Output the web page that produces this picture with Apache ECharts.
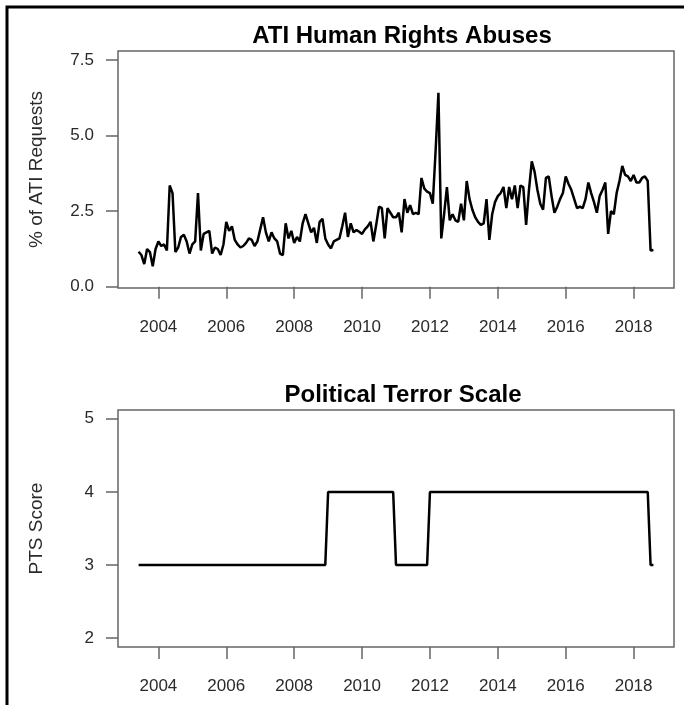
<!DOCTYPE html>
<html>
<head>
<meta charset="utf-8">
<script src="https://cdn.jsdelivr.net/npm/echarts@6/dist/echarts.min.js"></script>
<style>
html,body{margin:0;padding:0;background:#fff;}
#chart{width:684px;height:705px;}
</style>
</head>
<body>
<div id="chart"></div>
<script>
// Monthly series starting June 2003 (183 months, to Aug 2018)
const startYear = 2003;
const startMonth = 6;

const atiValues = [
  1.16,1.05,0.75,1.25,1.15,0.68,1.25,1.50,1.35,1.40,
  1.20,3.35,3.10,1.15,1.30,1.65,1.72,1.50,1.10,1.40,
  1.50,3.10,1.20,1.75,1.80,1.85,1.10,1.30,1.25,1.05,
  1.40,2.15,1.85,2.00,1.55,1.40,1.30,1.35,1.45,1.60,
  1.55,1.35,1.50,1.90,2.30,1.80,1.50,1.80,1.60,1.50,
  1.10,1.05,2.10,1.60,1.85,1.45,1.65,1.50,2.10,2.40,
  2.10,1.80,1.95,1.45,2.15,2.25,1.60,1.40,1.27,1.50,
  1.55,1.60,2.00,2.45,1.65,2.10,1.80,1.88,1.82,1.75,
  1.90,2.00,2.15,1.50,2.05,2.65,2.60,1.60,2.60,2.45,
  2.30,2.30,2.45,1.80,2.90,2.45,2.70,2.40,2.45,2.40,
  3.60,3.25,3.15,3.10,2.75,4.50,6.42,1.60,2.40,3.30,
  2.20,2.40,2.20,2.15,2.75,2.20,3.50,2.90,2.55,2.30,
  2.15,2.05,2.10,2.90,1.55,2.40,2.80,3.00,3.10,3.30,
  2.60,3.30,2.90,3.35,2.60,3.35,3.30,2.05,3.20,4.15,
  3.80,3.20,2.75,2.55,3.60,3.65,3.00,2.45,2.65,2.90,
  3.10,3.65,3.40,3.20,2.90,2.60,2.65,2.60,2.90,3.45,
  3.10,2.80,2.45,3.00,3.20,3.45,1.75,2.50,2.40,3.10,
  3.50,4.00,3.70,3.65,3.50,3.70,3.45,3.45,3.60,3.65,
  3.50,1.20,1.22
];

const ptsValues = [
  3,3,3,3,3,3,3,3,3,3, 3,3,3,3,3,3,3,3,3,3,
  3,3,3,3,3,3,3,3,3,3, 3,3,3,3,3,3,3,3,3,3,
  3,3,3,3,3,3,3,3,3,3, 3,3,3,3,3,3,3,3,3,3,
  3,3,3,3,3,3,3,4,4,4, 4,4,4,4,4,4,4,4,4,4,
  4,4,4,4,4,4,4,4,4,4, 4,3,3,3,3,3,3,3,3,3,
  3,3,3,4,4,4,4,4,4,4, 4,4,4,4,4,4,4,4,4,4,
  4,4,4,4,4,4,4,4,4,4, 4,4,4,4,4,4,4,4,4,4,
  4,4,4,4,4,4,4,4,4,4, 4,4,4,4,4,4,4,4,4,4,
  4,4,4,4,4,4,4,4,4,4, 4,4,4,4,4,4,4,4,4,4,
  4,3,3
];

const xTicks = [2004, 2006, 2008, 2010, 2012, 2014, 2016, 2018];
const atiTicks = [0, 2.5, 5, 7.5];
const ptsTicks = [2, 3, 4, 5];

const titleTop = 'ATI Human Rights Abuses';
const titleBottom = 'Political Terror Scale';
const yNameTop = '% of ATI Requests';
const yNameBottom = 'PTS Score';

function monthTime(i) {
  const m = startMonth - 1 + i;
  return startYear + m / 12;
}
const atiData = atiValues.map((v, i) => [monthTime(i), v]);
const ptsData = ptsValues.map((v, i) => [monthTime(i), v]);

const FONT = "'Liberation Sans', Arial, sans-serif";
const boxColor = '#666';
const labelColor = '#2a2a2a';

function makeX(gridIndex) {
  return {
    type: 'value', gridIndex: gridIndex,
    min: 2002.81, max: 2019.19,
    axisLine: {show: false},
    splitLine: {show: false},
    axisTick: {show: true, inside: false, length: 12, customValues: xTicks,
      lineStyle: {color: boxColor, width: 1.5}},
    axisLabel: {show: true, customValues: xTicks, margin: 31,
      fontFamily: FONT, fontSize: 17, color: labelColor,
      formatter: v => String(Math.round(v))}
  };
}

const chart = echarts.init(document.getElementById('chart'), null, {renderer: 'canvas'});
chart.setOption({
  backgroundColor: '#fff',
  animation: false,
  title: [
    {text: titleTop, left: 397, top: 19, textAlign: 'center',
     textStyle: {fontFamily: FONT, fontSize: 24, fontWeight: 'bold', color: '#000'}},
    {text: titleBottom, left: 398, top: 378, textAlign: 'center',
     textStyle: {fontFamily: FONT, fontSize: 24, fontWeight: 'bold', color: '#000'}}
  ],
  graphic: [
    {type: 'polyline', shape: {points: [[7, 705], [7, 7], [684, 7]]},
     style: {stroke: '#000', lineWidth: 3, fill: null}, silent: true}
  ],
  grid: [
    {left: 118, top: 51, right: 10, height: 237, show: true,
     borderColor: boxColor, borderWidth: 1.5, backgroundColor: 'transparent'},
    {left: 118, top: 410, right: 10, height: 237, show: true,
     borderColor: boxColor, borderWidth: 1.5, backgroundColor: 'transparent'}
  ],
  xAxis: [makeX(0), makeX(1)],
  yAxis: [
    {type: 'value', gridIndex: 0, min: -0.04, max: 7.8,
     name: yNameTop, nameLocation: 'middle', nameGap: 72, nameRotate: 90,
     nameTextStyle: {fontFamily: FONT, fontSize: 19, color: labelColor},
     axisLine: {show: false}, splitLine: {show: false},
     axisTick: {show: true, length: 12, customValues: atiTicks,
       lineStyle: {color: boxColor, width: 1.5}},
     axisLabel: {show: true, customValues: atiTicks, margin: 24,
       fontFamily: FONT, fontSize: 17, color: labelColor,
       formatter: v => v.toFixed(1)}},
    {type: 'value', gridIndex: 1, min: 1.88, max: 5.12,
     name: yNameBottom, nameLocation: 'middle', nameGap: 72, nameRotate: 90,
     nameTextStyle: {fontFamily: FONT, fontSize: 19, color: labelColor},
     axisLine: {show: false}, splitLine: {show: false},
     axisTick: {show: true, length: 12, customValues: ptsTicks,
       lineStyle: {color: boxColor, width: 1.5}},
     axisLabel: {show: true, customValues: ptsTicks, margin: 24,
       fontFamily: FONT, fontSize: 17, color: labelColor,
       formatter: v => String(Math.round(v))}}
  ],
  series: [
    {type: 'line', xAxisIndex: 0, yAxisIndex: 0, data: atiData,
     showSymbol: false, symbol: 'none', lineStyle: {color: '#000', width: 2.5}},
    {type: 'line', xAxisIndex: 1, yAxisIndex: 1, data: ptsData,
     showSymbol: false, symbol: 'none', lineStyle: {color: '#000', width: 2.5}}
  ]
});
</script>
</body>
</html>
